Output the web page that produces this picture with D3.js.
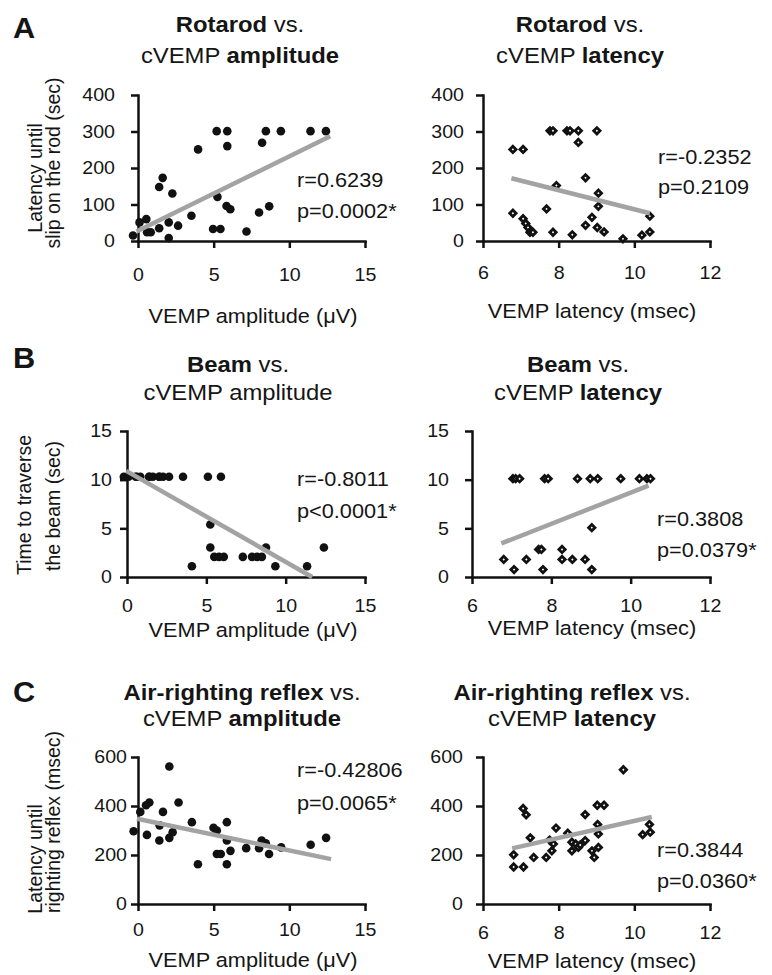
<!DOCTYPE html>
<meta charset="utf-8">
<style>

    body {
        margin: 0;
        background: #fff;
    }

    svg text {
        font-family: "Liberation Sans", Arial, sans-serif;
        fill: #151515;
    }

    .axis path,
    .axis line {
        fill: none;
        stroke: #111;
        stroke-width: 2.5px;
    }

</style>
<body>
<script src="https://d3js.org/d3.v7.min.js"></script>
<script>

    // ticks
    var ampTicks = [0, 5, 10, 15],
        latTicks = [6, 8, 10, 12],
        rotarodTicks = [0, 100, 200, 300, 400],
        beamTicks = [0, 5, 10, 15],
        airTicks = [0, 200, 400, 600];

    // A: rotarod (sec)
    var rotarodAmpX = [-0.33, 0.1, 0.55, 0.6, 0.84, 1.4, 1.4, 1.63, 2.03, 2.03, 2.27, 2.65, 3.53, 3.97, 4.96, 5.45, 5.25, 5.2, 5.9, 5.9, 5.85, 6.1, 7.17, 8.0, 8.2, 8.45, 8.67, 9.44, 11.4, 12.42];
    var rotarodAmpY = [15, 51, 60, 24, 24, 35, 148, 173, 51, 8, 130, 42, 69, 251, 33, 33, 121, 301, 301, 260, 96, 87, 26, 78, 269, 301, 95, 301, 301, 301];
    var rotarodLatX = [6.79, 7.06, 6.79, 7.06, 7.13, 7.19, 7.24, 7.32, 7.68, 7.77, 7.85, 7.94, 7.85, 8.22, 8.3, 8.36, 8.52, 8.52, 8.71, 8.71, 8.88, 9.01, 9.05, 9.05, 9.02, 9.2, 9.7, 10.2, 10.41, 10.41];
    var rotarodLatY = [251, 251, 76, 61, 48, 37, 24, 24, 88, 302, 302, 152, 24, 302, 302, 17, 302, 270, 173, 43, 65, 302, 131, 95, 37, 25, 6, 16, 68, 25];

    // B: beam (sec)
    var beamAmpX = [-0.2, 0.1, 0.55, 0.6, 0.84, 1.4, 1.4, 1.63, 2.03, 2.03, 2.27, 2.65, 3.53, 5.1, 5.92, 5.25, 5.25, 5.5, 5.8, 6.1, 7.3, 7.88, 8.2, 8.5, 8.76, 4.09, 9.35, 11.35, 12.41];
    var beamAmpY = [10.3, 10.3, 10.3, 10.3, 10.3, 10.3, 10.3, 10.3, 10.3, 10.3, 10.3, 10.3, 10.3, 10.3, 10.3, 5.4, 3.03, 2.07, 2.07, 2.07, 2.07, 2.07, 2.07, 2.07, 3.03, 1.1, 1.1, 1.1, 3.03];
    var beamLatX = [6.8, 7.06, 7.03, 7.1, 7.2, 7.37, 7.68, 7.75, 7.79, 7.83, 7.92, 8.27, 8.27, 8.53, 8.66, 8.85, 8.98, 9.02, 9.02, 9.17, 9.75, 10.22, 10.41, 10.5];
    var beamLatY = [1.8, 0.76, 10.1, 10.1, 10.1, 1.8, 2.83, 2.83, 0.76, 10.1, 10.1, 2.83, 1.8, 1.8, 10.1, 1.8, 10.1, 5.07, 0.76, 10.1, 10.1, 10.1, 10.1, 10.1];

    // C: air-righting reflex (msec)
    var airAmpX = [-0.29, 0.15, 0.59, 0.53, 0.75, 1.41, 1.43, 1.65, 2.07, 2.07, 2.29, 2.68, 3.56, 3.96, 4.99, 5.21, 5.21, 5.47, 5.87, 5.87, 5.87, 6.11, 7.15, 8.0, 8.17, 8.44, 8.66, 9.46, 11.41, 12.43];
    var airAmpY = [297, 376, 282, 403, 414, 259, 321, 376, 561, 270, 293, 414, 334, 162, 311, 300, 204, 204, 334, 259, 162, 217, 228, 228, 259, 248, 204, 231, 242, 270];
    var airLatX = [6.81, 6.81, 7.07, 7.06, 7.14, 7.25, 7.34, 7.67, 7.76, 7.82, 7.86, 7.93, 8.24, 8.35, 8.35, 8.45, 8.52, 8.57, 8.7, 8.7, 8.88, 8.94, 9.05, 9.05, 9.03, 9.02, 9.2, 9.71, 10.22, 10.4, 10.42];
    var airLatY = [201, 151, 151, 390, 364, 270, 190, 190, 261, 217, 245, 310, 289, 252, 217, 245, 231, 241, 259, 365, 217, 190, 231, 286, 325, 403, 403, 548, 283, 325, 293];

    // trend line end points as drawn
    var rotarodAmpTrend = [[-0.1, 26], [12.7, 287]],
        rotarodLatTrend = [[6.75, 172], [10.41, 76]],
        beamAmpTrend = [[-0.05, 10.9], [11.67, 0]],
        beamLatTrend = [[6.74, 3.45], [10.45, 9.38]],
        airAmpTrend = [[-0.07, 348], [12.76, 183]],
        airLatTrend = [[6.77, 227], [10.46, 355]];

    var rotarodAmpStats = ["r=0.6239", "p=0.0002*"],
        rotarodLatStats = ["r=-0.2352", "p=0.2109"],
        beamAmpStats = ["r=-0.8011", "p<0.0001*"],
        beamLatStats = ["r=0.3808", "p=0.0379*"],
        airAmpStats = ["r=-0.42806", "p=0.0065*"],
        airLatStats = ["r=0.3844", "p=0.0360*"];

    var sx = 1.06;   // the figure text is a little wider than plain Arial

    var svg = d3.select("body").append("svg")
        .attr("width", 772)
        .attr("height", 975);

    // parts: [[string, bold], ...]
    function label(x, y, parts, size, anchor, rot) {
        var t = svg.append("text")
            .attr("transform", "translate(" + x + "," + y + ") scale(" + sx + ",1)" + (rot ? " rotate(-90)" : ""))
            .style("font-size", size + "px")
            .attr("text-anchor", anchor || "start");
        parts.forEach(function(p) {
            t.append("tspan").text(p[0]).style("font-weight", p[1] ? "bold" : "normal");
        });
        return t;
    }

    function panel(o) {
        var x = d3.scaleLinear().domain([o.xTicks[0], o.xTicks[o.xTicks.length - 1]]).range(o.xRange);
        var y = d3.scaleLinear().domain([o.yTicks[0], o.yTicks[o.yTicks.length - 1]]).range(o.yRange);
        var g = svg.append("g");

        g.append("g")
            .attr("class", "axis")
            .attr("transform", "translate(0," + o.yRange[0] + ")")
            .call(d3.axisBottom(x).tickValues(o.xTicks).tickFormat(d3.format("d"))
                .tickSize(7).tickSizeOuter(0).tickPadding(o.xPad));
        g.append("g")
            .attr("class", "axis")
            .attr("transform", "translate(" + o.xRange[0] + ",0)")
            .call(d3.axisLeft(y).tickValues(o.yTicks).tickFormat(d3.format("d"))
                .tickSize(7).tickSizeOuter(0).tickPadding(o.yGap / sx - 7));
        g.selectAll(".axis text")
            .style("font-size", "18.5px")
            .attr("fill", "#151515")
            .attr("transform", "scale(" + sx + ",1)");
        g.selectAll(".axis .domain").attr("stroke-linecap", "square");

        var pts = d3.zip(o.xs, o.ys);
        if (o.diamond) {
            g.selectAll(".pt")
                .data(pts)
                .enter().append("path")
                .attr("class", "pt")
                .attr("d", d3.symbol().type(d3.symbolSquare).size(20))
                .attr("transform", function(d) { return "translate(" + x(d[0]) + "," + y(d[1]) + ") rotate(45)"; })
                .style("fill", "#fff")
                .style("stroke", "#111")
                .style("stroke-width", 2.8);
        } else {
            g.selectAll(".pt")
                .data(pts)
                .enter().append("circle")
                .attr("class", "pt")
                .attr("cx", function(d) { return x(d[0]); })
                .attr("cy", function(d) { return y(d[1]); })
                .attr("r", 4.3)
                .style("fill", "#111");
        }

        g.append("path")
            .datum(o.trend)
            .attr("d", d3.line().x(function(d) { return x(d[0]); }).y(function(d) { return y(d[1]); }))
            .style("fill", "none")
            .style("stroke", "#a3a3a3")
            .style("stroke-width", 4.5);

        label(o.titleX, o.titleY[0], o.title1, 22.5, "middle");
        label(o.titleX, o.titleY[1], o.title2, 22.5, "middle");
        label(o.xTitleX, o.xTitleY, [[o.xTitle, false]], 20.5, "middle");
        if (o.yTitle) {
            label(o.yTitlePos[0], o.yTitlePos[1], [[o.yTitle[0], false]], 19.5, "middle", true);
            label(o.yTitlePos[2], o.yTitlePos[3], [[o.yTitle[1], false]], 19.5, "middle", true);
        }
        label(o.statPos[0], o.statPos[1], [[o.stats[0], false]], 20.5);
        label(o.statPos[0], o.statPos[2], [[o.stats[1], false]], 20.5);
    }

    var ampTitle = "VEMP amplitude (\u03bcV)",
        latTitle = "VEMP latency (msec)";

    // row A
    panel({
        xTicks: ampTicks, yTicks: rotarodTicks, xRange: [138, 365], yRange: [241, 95],
        xs: rotarodAmpX, ys: rotarodAmpY, trend: rotarodAmpTrend, stats: rotarodAmpStats,
        xPad: 20, yGap: 23,
        title1: [["Rotarod", true], [" vs.", false]], title2: [["cVEMP ", false], ["amplitude", true]],
        titleX: 240, titleY: [32, 63],
        xTitle: ampTitle, xTitleX: 253, xTitleY: 323,
        yTitle: ["Latency until", "slip on the rod (sec)"], yTitlePos: [42, 178, 60, 163],
        statPos: [297, 187, 218]
    });
    panel({
        xTicks: latTicks, yTicks: rotarodTicks, xRange: [483, 710], yRange: [241, 95],
        xs: rotarodLatX, ys: rotarodLatY, trend: rotarodLatTrend, stats: rotarodLatStats, diamond: true,
        xPad: 18, yGap: 19,
        title1: [["Rotarod", true], [" vs.", false]], title2: [["cVEMP ", false], ["latency", true]],
        titleX: 580, titleY: [32, 63],
        xTitle: latTitle, xTitleX: 592, xTitleY: 318,
        statPos: [658, 164, 194]
    });

    // row B
    panel({
        xTicks: ampTicks, yTicks: beamTicks, xRange: [127, 365], yRange: [577, 431],
        xs: beamAmpX, ys: beamAmpY, trend: beamAmpTrend, stats: beamAmpStats,
        xPad: 15, yGap: 15,
        title1: [["Beam", true], [" vs.", false]], title2: [["cVEMP amplitude", false]],
        titleX: 238, titleY: [372, 400],
        xTitle: ampTitle, xTitleX: 253, xTitleY: 637,
        yTitle: ["Time to traverse", "the beam (sec)"], yTitlePos: [31, 505, 60, 506],
        statPos: [297, 486, 518]
    });
    panel({
        xTicks: latTicks, yTicks: beamTicks, xRange: [472, 710], yRange: [577, 431],
        xs: beamLatX, ys: beamLatY, trend: beamLatTrend, stats: beamLatStats, diamond: true,
        xPad: 15, yGap: 23,
        title1: [["Beam", true], [" vs.", false]], title2: [["cVEMP ", false], ["latency", true]],
        titleX: 578, titleY: [372, 400],
        xTitle: latTitle, xTitleX: 592, xTitleY: 635,
        statPos: [657, 526, 557]
    });

    // row C
    panel({
        xTicks: ampTicks, yTicks: airTicks, xRange: [138, 365], yRange: [904, 757],
        xs: airAmpX, ys: airAmpY, trend: airAmpTrend, stats: airAmpStats,
        xPad: 12, yGap: 11,
        title1: [["Air-righting reflex", true], [" vs.", false]], title2: [["cVEMP ", false], ["amplitude", true]],
        titleX: 242, titleY: [700, 726],
        xTitle: ampTitle, xTitleX: 253, xTitleY: 967,
        yTitle: ["Latency until", "righting reflex (msec)"], yTitlePos: [42, 859, 60, 822],
        statPos: [297, 777, 810]
    });
    panel({
        xTicks: latTicks, yTicks: airTicks, xRange: [483, 710], yRange: [904, 757],
        xs: airLatX, ys: airLatY, trend: airLatTrend, stats: airLatStats, diamond: true,
        xPad: 15, yGap: 20,
        title1: [["Air-righting reflex", true], [" vs.", false]], title2: [["cVEMP ", false], ["latency", true]],
        titleX: 572, titleY: [700, 726],
        xTitle: latTitle, xTitleX: 592, xTitleY: 968,
        statPos: [657, 857, 888]
    });

    // panel letters
    label(13, 38, [["A", true]], 29);
    label(13, 368, [["B", true]], 29);
    label(13, 702, [["C", true]], 29);

</script>
